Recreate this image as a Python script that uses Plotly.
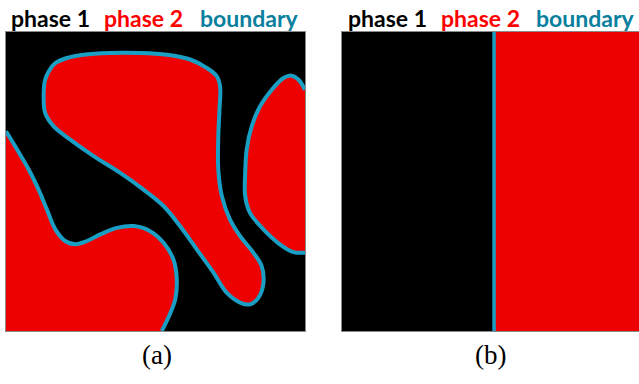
import plotly.graph_objects as go

# ---- data: outlines of phase-2 regions (panel units 0..100, y measured from top) ----
blob_center_x = [15.4, 13.1, 12.6, 13.1, 15.9, 21.5, 29.3, 38.2, 46.0, 52.7, 58.2, 63.8, 69.4, 73.8,
                 78.3, 81.6, 84.4, 86.1, 85.5, 82.7, 78.3, 74.9, 72.2, 71.0, 71.0, 71.4, 71.6, 70.5,
                 67.1, 61.6, 53.8, 44.9, 34.9, 25.9, 20.4, 16.5, 15.4]
blob_center_y = [11.5, 15.9, 22.6, 27.1, 31.5, 36.0, 41.5, 47.1, 52.7, 58.2, 64.9, 72.7, 80.5, 87.2,
                 90.5, 91.1, 88.9, 83.9, 78.3, 73.8, 68.3, 62.7, 54.9, 46.0, 34.9, 25.9, 18.2, 14.8,
                 12.0, 9.2, 7.6, 7.0, 7.0, 7.6, 8.7, 10.4, 11.5]

blob_right_x = [100, 97.8, 95.5, 92.8, 88.9, 85.0, 82.2, 80.5, 80.0, 80.0, 81.6, 86.1, 91.6, 96.1, 100]
blob_right_y = [19.3, 15.9, 14.6, 15.4, 19.3, 24.8, 31.5, 39.3, 47.1, 54.9, 60.5, 66.0, 71.0, 73.6, 73.8]

blob_left_x = [0, 3.7, 7.6, 10.9, 13.7, 16.5, 19.8, 23.2, 27.1, 31.5, 37.1, 42.7, 48.2, 52.7,
               56.0, 57.1, 56.6, 54.3, 52.1]
blob_left_y = [33.2, 39.3, 46.0, 52.7, 59.4, 66.0, 69.9, 71.0, 69.9, 67.7, 65.5, 64.9, 66.6, 70.5,
               76.1, 82.7, 89.4, 95.5, 100]

boundary_b_x = 51.2   # position of the flat interface in panel (b)

legend_labels = ["phase 1", "phase 2", "boundary"]
panel_labels = ["(a)", "(b)"]

RED = "#ee0000"
LINE = "#1a9fc4"
TEXT_COLORS = ["#000000", "#ff0000", "#0a7f9e"]

fig = go.Figure()


def add_fill(x, y, xa, ya):
    fig.add_trace(go.Scatter(x=x, y=y, mode="lines", fill="toself", fillcolor=RED,
                             line=dict(width=0, shape="spline", smoothing=1.0),
                             xaxis=xa, yaxis=ya, hoverinfo="skip", showlegend=False))


def add_line(x, y, xa, ya, w=4):
    fig.add_trace(go.Scatter(x=x, y=y, mode="lines",
                             line=dict(width=w, color=LINE, shape="spline", smoothing=1.0),
                             xaxis=xa, yaxis=ya, hoverinfo="skip", showlegend=False))


# panel (a)
add_fill(blob_center_x, blob_center_y, "x", "y")
add_line(blob_center_x, blob_center_y, "x", "y")

add_fill(blob_right_x + [110, 110], blob_right_y + [74.5, 18.5], "x", "y")
add_line(blob_right_x, blob_right_y, "x", "y")

add_fill(blob_left_x + [50, -10, -10], blob_left_y + [110, 110, 30], "x", "y")
add_line(blob_left_x, blob_left_y, "x", "y")

# panel (b)
fig.add_trace(go.Scatter(x=[boundary_b_x, 110, 110, boundary_b_x], y=[-5, -5, 105, 105],
                         mode="lines", fill="toself", fillcolor=RED, line=dict(width=0),
                         xaxis="x2", yaxis="y2", hoverinfo="skip", showlegend=False))
fig.add_trace(go.Scatter(x=[boundary_b_x, boundary_b_x], y=[-5, 105], mode="lines",
                         line=dict(width=3.5, color=LINE),
                         xaxis="x2", yaxis="y2", hoverinfo="skip", showlegend=False))

ax_common = dict(showgrid=False, zeroline=False, showticklabels=False,
                 ticks="", showline=True, linecolor="#8a8a8a", linewidth=1, mirror=True,
                 fixedrange=True)
ydom = [(384 - 331) / 384, (384 - 32) / 384]

fig.update_layout(
    width=639, height=384,
    margin=dict(l=0, r=0, t=0, b=0),
    paper_bgcolor="white",
    plot_bgcolor="black",
    showlegend=False,
    xaxis=dict(domain=[6 / 639, 305 / 639], range=[0, 100], **ax_common),
    yaxis=dict(domain=ydom, range=[100, 0], **ax_common),
    xaxis2=dict(domain=[342 / 639, 1.0], anchor="y2", range=[0, 100], **ax_common),
    yaxis2=dict(domain=ydom, anchor="x2", range=[100, 0], **ax_common),
)

# legend-like colored labels above each panel
label_lefts = [[9, 102, 198], [346, 439, 534]]
for lefts in label_lefts:
    for txt, col, left in zip(legend_labels, TEXT_COLORS, lefts):
        fig.add_annotation(text=txt, x=left / 639, y=(384 - 18) / 384, xref="paper", yref="paper",
                           xanchor="left", yanchor="middle", showarrow=False,
                           font=dict(family="Lato", size=23, color=col, weight="bold"))

for txt, cx in zip(panel_labels, [157, 490]):
    fig.add_annotation(text=txt, x=cx / 639, y=(384 - 355) / 384, xref="paper", yref="paper",
                       xanchor="center", yanchor="middle", showarrow=False,
                       font=dict(family="Liberation Serif", size=27, color="black"))

fig.write_html("out.html", config={"displayModeBar": False},
               post_script="document.body.style.margin='0';")
